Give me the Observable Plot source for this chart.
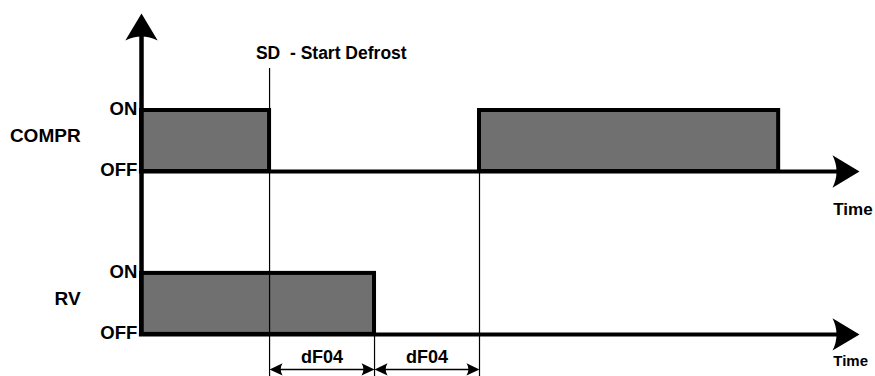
<!DOCTYPE html>
<html>
<head>
<meta charset="utf-8">
<script src="https://cdn.jsdelivr.net/npm/d3@7"></script>
<script src="https://cdn.jsdelivr.net/npm/@observablehq/plot@0.6"></script>
<style>
  html, body { margin: 0; padding: 0; background: #fff; }
  #chart svg { display: block; }
</style>
</head>
<body>
<div id="chart"></div>
<script>
// ---- data (time in units of dF04; levels: OFF = 0, ON = 1 above each signal's base) ----
const signals = ["COMPR", "RV"];
const signalBase = [2.67, 0];
const stateLabels = ["OFF", "ON"];
const comprOnStart = [0, 3.22];
const comprOnEnd = [1.22, 6.07];
const rvOnStart = [0];
const rvOnEnd = [2.22];
const sdTime = 1.22;
const dF04 = 1;
const timeEnd = 6.84;
const yTop = 5.26;
const yBottom = -0.69;
const sdLabel = "SD\u00a0\u00a0- Start Defrost";
const timeLabel = "Time";
const delayLabel = "dF04";

// ---- derived tables ----
const bars = [
  ...comprOnStart.map((s, i) => ({signal: "COMPR", x1: s, x2: comprOnEnd[i], base: signalBase[0]})),
  ...rvOnStart.map((s, i) => ({signal: "RV", x1: s, x2: rvOnEnd[i], base: signalBase[1]}))
];
const axes = signals.map((name, i) => ({name, base: signalBase[i]}));
const stateTexts = axes.flatMap(a => stateLabels.map((s, k) => ({label: s, y: a.base + k})));
const eventLines = [
  {x: sdTime, y1: 4.36, y2: yBottom},
  {x: rvOnEnd[0], y1: signalBase[1], y2: yBottom},
  {x: comprOnStart[1], y1: signalBase[0], y2: yBottom}
];
const dims = [0, 1].map(k => ({x1: sdTime + k * dF04, x2: sdTime + (k + 1) * dF04}));
const dimY = -0.575;

// custom filled arrowhead, tip at origin pointing right
function arrowHead(ratio) {
  return {
    draw(ctx, size) {
      const L = Math.sqrt(size / Math.PI);
      const w = L * ratio;
      ctx.moveTo(0, 0);
      ctx.lineTo(-L, -w);
      ctx.quadraticCurveTo(-L * 0.7, 0, -L, w);
      ctx.closePath();
    }
  };
}
const bigHead = arrowHead(0.6);
const smallHead = arrowHead(0.47);

const font = "'Liberation Sans', Arial, sans-serif";

const chart = Plot.plot({
  width: 875,
  height: 376,
  marginLeft: 141,
  marginRight: 16,
  marginTop: 13,
  marginBottom: 0,
  x: {domain: [0, timeEnd], axis: null},
  y: {domain: [yBottom, yTop], axis: null},
  style: {fontFamily: font, background: "#fff", overflow: "visible"},
  marks: [
    // ON intervals
    Plot.rect(bars, {x1: "x1", x2: "x2", y1: "base", y2: d => d.base + 1,
      fill: "#707070", stroke: "#000", strokeWidth: 4}),
    // event guide lines
    Plot.ruleX(eventLines, {x: "x", y1: "y1", y2: "y2", stroke: "#000", strokeWidth: 1.2}),
    // time axes (horizontal)
    Plot.ruleY(axes, {y: "base", x1: -0.02, x2: timeEnd - 0.2, stroke: "#000", strokeWidth: 4}),
    Plot.dot(axes, {x: timeEnd, y: "base", symbol: bigHead, r: 27, fill: "#000", stroke: "none"}),
    // vertical axis
    Plot.ruleX([0], {y1: yBottom + 0.66, y2: yTop - 0.3, stroke: "#000", strokeWidth: 4.5}),
    Plot.dot([0], {x: 0, y: yTop, symbol: bigHead, r: 27, rotate: -90, fill: "#000", stroke: "none"}),
    // dimension arrows
    Plot.ruleY(dims, {y: dimY, x1: d => d.x1 + 0.05, x2: d => d.x2 - 0.05, stroke: "#000", strokeWidth: 1.3}),
    Plot.dot(dims, {x: "x1", y: dimY, symbol: smallHead, r: 13, rotate: 180, fill: "#000", stroke: "none"}),
    Plot.dot(dims, {x: "x2", y: dimY, symbol: smallHead, r: 13, fill: "#000", stroke: "none"}),
    Plot.text(dims, {x: d => (d.x1 + d.x2) / 2, y: -0.38, text: () => delayLabel,
      fontSize: 18, fontWeight: "bold", fill: "#000"}),
    // labels
    Plot.text(stateTexts, {x: -0.04, y: "y", text: "label", textAnchor: "end",
      fontSize: 18.5, fontWeight: "bold", fill: "#000", dy: -1}),
    Plot.text(axes, {x: -0.58, y: d => d.base + 0.58, text: "name", textAnchor: "end",
      fontSize: 19, fontWeight: "bold", fill: "#000"}),
    Plot.text(axes, {x: 6.59, y: d => d.base - (d.name === "COMPR" ? 0.62 : 0.44), text: () => timeLabel,
      textAnchor: "start", fontSize: d => d.name === "COMPR" ? 17 : 15, fontWeight: "bold", fill: "#000"}),
    Plot.text([sdLabel], {x: sdTime - 0.13, y: 4.6, text: d => d, textAnchor: "start",
      fontSize: 17.5, fontWeight: "bold", fill: "#000"})
  ]
});
document.getElementById("chart").appendChild(chart);
</script>
</body>
</html>
